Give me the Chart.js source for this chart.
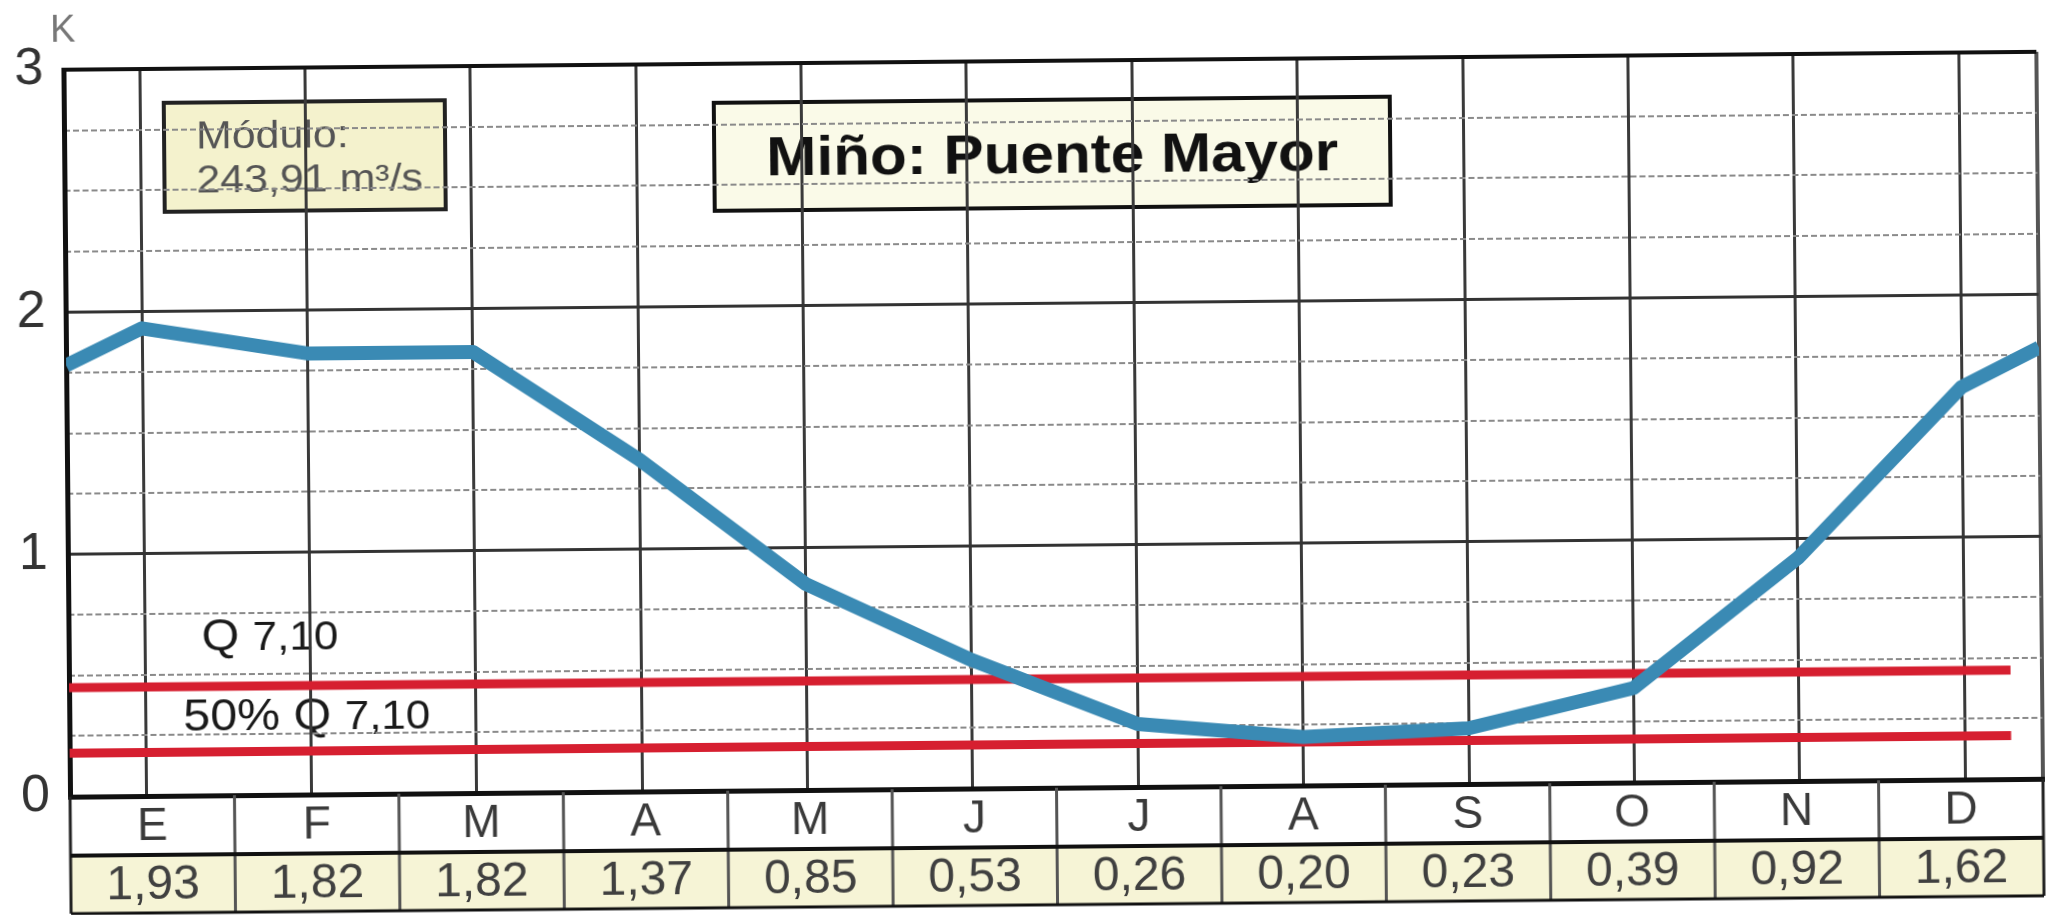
<!DOCTYPE html>
<html>
<head>
<meta charset="utf-8">
<script src="https://cdn.jsdelivr.net/npm/chart.js@4.4.1/dist/chart.umd.min.js"></script>
<style>
  html, body { margin: 0; padding: 0; background: #ffffff; overflow: hidden; }
  #wrap { position: absolute; left: 0; top: 0; width: 2054px; height: 915px; transform: rotate(-0.52deg); background: #ffffff; }
</style>
</head>
<body>
<div id="wrap"><canvas id="c"></canvas></div>
<script>
// ---------------- data ----------------
const months = ['E', 'F', 'M', 'A', 'M', 'J', 'J', 'A', 'S', 'O', 'N', 'D'];
const kValues = [1.93, 1.82, 1.82, 1.37, 0.85, 0.53, 0.26, 0.20, 0.23, 0.39, 0.92, 1.62];
const kLabels = ['1,93', '1,82', '1,82', '1,37', '0,85', '0,53', '0,26', '0,20', '0,23', '0,39', '0,92', '1,62'];
const edgeValues = [1.78, 1.78];      // line value where it meets the left / right frame
const q710 = 0.45;                    // Q 7,10 level
const q710Half = 0.18;                // 50% Q 7,10 level
const yTickLabels = ['0', '1', '2', '3'];
const titleText = 'Miño: Puente Mayor';
const moduloLines = ['Módulo:', '243,91 m³/s'];
const axisUnit = 'K';

// ---------------- layout constants ----------------
const X_MIN = -0.46, X_MAX = 11.47, RED_END = 11.28;
const FONT = "'Liberation Sans', Arial, Helvetica, sans-serif";

const blueData = [{ x: X_MIN, y: edgeValues[0] }]
  .concat(kValues.map((v, i) => ({ x: i, y: v })))
  .concat([{ x: X_MAX, y: edgeValues[1] }]);

function sText(ctx, text, x, y, font, color, sx, align) {
  ctx.save();
  ctx.font = font;
  ctx.fillStyle = color;
  ctx.textBaseline = 'alphabetic';
  ctx.textAlign = align || 'left';
  ctx.translate(x, y);
  ctx.scale(sx, 1);
  ctx.fillText(text, 0, 0);
  const w = ctx.measureText(text).width * sx;
  ctx.restore();
  return w;
}

const underPlugin = {
  id: 'under',
  beforeDraw(chart) {
    const ctx = chart.ctx;
    ctx.save();
    ctx.fillStyle = '#ffffff';
    ctx.fillRect(0, 0, chart.width, chart.height);

    // Módulo box
    ctx.fillStyle = '#f4f2cd';
    ctx.fillRect(167, 95, 281, 109);
    ctx.strokeStyle = '#222';
    ctx.lineWidth = 4;
    ctx.strokeRect(167, 95, 281, 109);
    sText(ctx, moduloLines[0], 199, 141, '39px ' + FONT, '#555', 1.1);
    sText(ctx, moduloLines[1], 199, 185, '39px ' + FONT, '#555', 1.1);

    // Title box
    ctx.fillStyle = '#fafae8';
    ctx.fillRect(717, 100, 676, 108);
    ctx.strokeStyle = '#111';
    ctx.lineWidth = 4;
    ctx.strokeRect(717, 100, 676, 108);
    sText(ctx, titleText, 1055, 173, 'bold 56px ' + FONT, '#111', 1.075, 'center');

    // Q labels
    let w = sText(ctx, 'Q ', 200, 643, '44px ' + FONT, '#1a1a1a', 1.1);
    sText(ctx, '7,10', 200 + w, 643, '40px ' + FONT, '#1a1a1a', 1.1);
    w = sText(ctx, '50% Q ', 181, 723, '44px ' + FONT, '#1a1a1a', 1.1);
    sText(ctx, '7,10', 181 + w, 723, '40px ' + FONT, '#1a1a1a', 1.1);

    // axis unit
    sText(ctx, axisUnit, 54, 33, '38px ' + FONT, '#777', 1.0);
    ctx.restore();
  }
};

const tablePlugin = {
  id: 'table',
  afterDraw(chart) {
    const ctx = chart.ctx;
    const xs = chart.scales.x;
    const left = xs.getPixelForValue(X_MIN);
    const right = xs.getPixelForValue(X_MAX);
    const top = chart.chartArea.bottom;
    const mid = top + 59;
    const bot = top + 117;
    const cw = (right - left) / months.length;
    ctx.save();
    // value row background
    ctx.fillStyle = '#f6f4d6';
    ctx.fillRect(left, mid, right - left, bot - mid);
    // texts
    ctx.textAlign = 'center';
    ctx.textBaseline = 'middle';
    months.forEach((m, i) => {
      ctx.font = '46px ' + FONT;
      ctx.fillStyle = '#3a3a3a';
      ctx.fillText(m, left + cw * (i + 0.5), (top + mid) / 2 + 2);
      ctx.font = '48px ' + FONT;
      ctx.fillStyle = '#404040';
      ctx.fillText(kLabels[i], left + cw * (i + 0.5), (mid + bot) / 2 + 2);
    });
    // column separators
    ctx.strokeStyle = '#555';
    ctx.lineWidth = 3;
    for (let k = 1; k < months.length; k++) {
      const x = left + cw * k;
      ctx.beginPath(); ctx.moveTo(x, top); ctx.lineTo(x, bot); ctx.stroke();
    }
    // outer lines
    ctx.strokeStyle = '#222';
    ctx.lineWidth = 3;
    ctx.beginPath(); ctx.moveTo(left, top); ctx.lineTo(left, bot); ctx.stroke();
    ctx.beginPath(); ctx.moveTo(right, top); ctx.lineTo(right, bot); ctx.stroke();
    ctx.strokeStyle = '#111';
    ctx.lineWidth = 4;
    ctx.beginPath(); ctx.moveTo(left, mid); ctx.lineTo(right, mid); ctx.stroke();
    ctx.lineWidth = 3;
    ctx.beginPath(); ctx.moveTo(left, bot); ctx.lineTo(right, bot); ctx.stroke();
    ctx.restore();
  }
};

new Chart(document.getElementById('c'), {
  type: 'line',
  data: {
    datasets: [
      { label: 'Q 7,10', data: [{ x: X_MIN, y: q710 }, { x: RED_END, y: q710 }],
        borderColor: '#d61f30', borderWidth: 9, pointRadius: 0, order: 2 },
      { label: '50% Q 7,10', data: [{ x: X_MIN, y: q710Half }, { x: RED_END, y: q710Half }],
        borderColor: '#d61f30', borderWidth: 9, pointRadius: 0, order: 2 },
      { label: 'K', data: blueData, borderColor: '#3a8ab4', borderWidth: 14, pointRadius: 0,
        borderJoinStyle: 'round', tension: 0, order: 1 }
    ]
  },
  options: {
    responsive: true,
    maintainAspectRatio: false,
    animation: false,
    layout: { padding: { left: 0, right: 14, top: 61, bottom: 127 } },
    plugins: { legend: { display: false }, tooltip: { enabled: false } },
    scales: {
      x: {
        type: 'linear', min: X_MIN, max: X_MAX,
        afterBuildTicks: (s) => { s.ticks = months.map((m, i) => ({ value: i })).concat([{ value: X_MAX }]); },
        ticks: { display: false },
        grid: {
          drawTicks: false,
          color: (c) => (c.tick && c.tick.value === X_MAX) ? '#555' : '#3a3a3a',
          lineWidth: (c) => (c.tick && c.tick.value === X_MAX) ? 4 : 3
        },
        border: { display: true, color: '#111', width: 5 },
        afterFit: (s) => { s.height = 0; }
      },
      y: {
        position: 'left', min: 0, max: 3,
        ticks: {
          stepSize: 1, padding: 20, color: '#333',
          font: { family: FONT, size: 52 },
          callback: (v) => yTickLabels[v]
        },
        grid: {
          drawTicks: false,
          color: (c) => (c.tick && c.tick.value === 3) ? '#111' : '#333',
          lineWidth: (c) => (c.tick && c.tick.value === 3) ? 4 : 3
        },
        border: { color: '#111', width: 5 },
        afterFit: (s) => { s.width = 67; }
      },
      yq: {
        position: 'left', min: 0, max: 3,
        ticks: { display: false, stepSize: 0.25 },
        grid: {
          drawTicks: false,
          color: (c) => (c.tick && Number.isInteger(c.tick.value)) ? 'rgba(0,0,0,0)' : '#8a8a8a',
          lineWidth: 2
        },
        border: { display: false, dash: [6, 3] },
        afterFit: (s) => { s.width = 0; }
      }
    }
  },
  plugins: [underPlugin, tablePlugin]
});
</script>
</body>
</html>
